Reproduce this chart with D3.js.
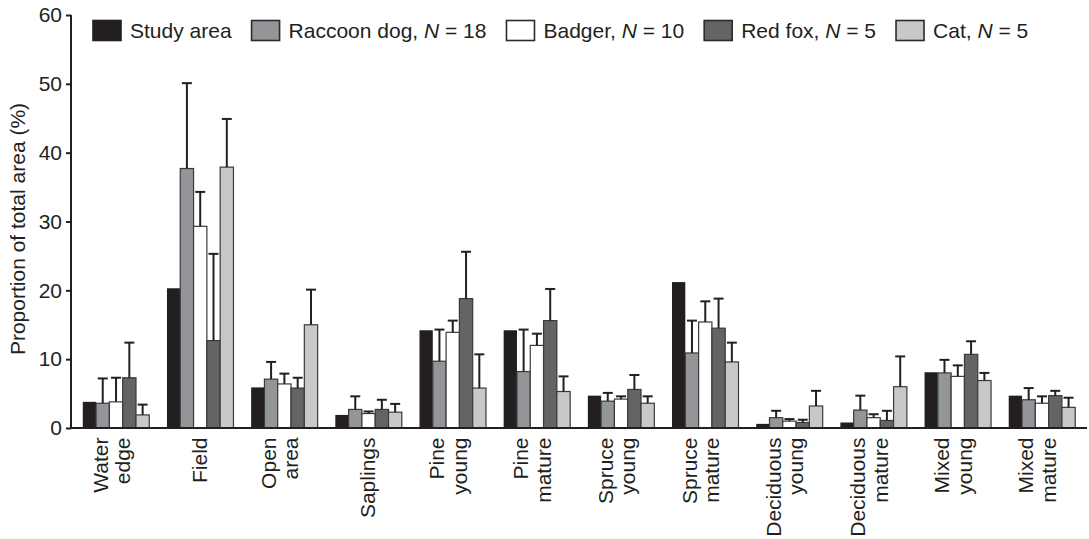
<!DOCTYPE html>
<html>
<head>
<meta charset="utf-8">
<script src="https://cdn.jsdelivr.net/npm/d3@7"></script>
<style>
  html, body { margin: 0; padding: 0; background: #fff; }
  svg { display: block; font-family: "Liberation Sans", Arial, Helvetica, sans-serif; }
</style>
</head>
<body>
<svg id="chart" width="1089" height="539"></svg>
<script>
// Habitat categories (label lines)
const categories = [
  ["Water", "edge"], ["Field"], ["Open", "area"], ["Saplings"],
  ["Pine", "young"], ["Pine", "mature"], ["Spruce", "young"], ["Spruce", "mature"],
  ["Deciduous", "young"], ["Deciduous", "mature"], ["Mixed", "young"], ["Mixed", "mature"]
];

// Series names (legend)
const seriesNames = ["Study area", "Raccoon dog", "Badger", "Red fox", "Cat"];
const seriesN = [null, 18, 10, 5, 5];

// Proportion of total area (%) per habitat
const studyArea = [3.8, 20.3, 5.9, 1.9, 14.2, 14.2, 4.7, 21.2, 0.6, 0.8, 8.1, 4.7];
const raccoonDog = [3.6, 37.7, 7.1, 2.7, 9.7, 8.2, 3.9, 10.9, 1.5, 2.6, 8.0, 4.1];
const badger = [3.8, 29.3, 6.4, 2.1, 13.9, 12.0, 4.2, 15.4, 1.0, 1.5, 7.5, 3.6];
const redFox = [7.3, 12.7, 5.8, 2.7, 18.8, 15.6, 5.6, 14.5, 0.8, 1.1, 10.7, 4.7];
const cat = [1.9, 37.9, 15.0, 2.3, 5.8, 5.3, 3.6, 9.6, 3.2, 6.0, 6.9, 3.0];

// Error (upper SE) per habitat
const raccoonDogErr = [3.6, 12.4, 2.5, 1.9, 4.6, 6.1, 1.2, 4.7, 1.0, 2.1, 1.9, 1.7];
const badgerErr = [3.5, 5.0, 1.5, 0.3, 1.7, 1.7, 0.4, 3.0, 0.3, 0.5, 1.6, 1.0];
const redFoxErr = [5.1, 12.6, 1.5, 1.4, 6.8, 4.6, 2.1, 4.3, 0.4, 1.4, 1.9, 0.7];
const catErr = [1.5, 7.0, 5.1, 1.2, 4.9, 2.2, 1.0, 2.8, 2.2, 4.4, 1.1, 1.4];

const yTicks = [0, 10, 20, 30, 40, 50, 60];

const seriesValues = [studyArea, raccoonDog, badger, redFox, cat];
const seriesErrors = [null, raccoonDogErr, badgerErr, redFoxErr, catErr];
const fills = ["#231f20", "#939598", "#ffffff", "#636466", "#c7c8ca"];
const ink = "#231f20";
const fontSize = "21px";

const svg = d3.select("#chart");
const margin = { left: 71, right: 2, top: 15, bottom: 111 };
const W = 1089, H = 539;
const x0 = margin.left, x1 = W - margin.right;
const yBottom = H - margin.bottom;

const x = d3.scaleBand()
  .domain(d3.range(categories.length))
  .range([x0, x1])
  .paddingInner(0.21)
  .paddingOuter(0.14);

const xs = d3.scaleBand()
  .domain(d3.range(seriesNames.length))
  .range([0, x.bandwidth()]);

const y = d3.scaleLinear().domain([0, 60]).range([yBottom, margin.top]);

// Bars
const groups = svg.append("g").selectAll("g")
  .data(categories.map((c, i) => i))
  .join("g")
  .attr("transform", i => `translate(${x(i)},0)`);

groups.each(function (ci) {
  const g = d3.select(this);
  seriesValues.forEach((vals, si) => {
    const v = vals[ci];
    g.append("rect")
      .attr("x", xs(si))
      .attr("y", y(v))
      .attr("width", xs.bandwidth())
      .attr("height", yBottom - y(v))
      .attr("fill", fills[si])
      .attr("stroke", si === 0 ? "none" : "#3a3a3b")
      .attr("stroke-width", 1.2);
  });
  // Error bars (upper only)
  seriesValues.forEach((vals, si) => {
    const errs = seriesErrors[si];
    if (!errs) return;
    const v = vals[ci], e = errs[ci];
    const cx = xs(si) + xs.bandwidth() / 2;
    g.append("line")
      .attr("x1", cx).attr("x2", cx)
      .attr("y1", y(v)).attr("y2", y(v + e))
      .attr("stroke", ink).attr("stroke-width", 2);
    g.append("line")
      .attr("x1", cx - 5).attr("x2", cx + 5)
      .attr("y1", y(v + e)).attr("y2", y(v + e))
      .attr("stroke", ink).attr("stroke-width", 2);
  });
});

// Y axis
const yAxis = svg.append("g")
  .attr("transform", `translate(${x0},0)`)
  .call(d3.axisLeft(y).tickValues(yTicks).tickSize(5).tickPadding(4));
yAxis.select(".domain").attr("stroke", ink).attr("stroke-width", 2)
  .attr("d", `M0,${y(60)}V${yBottom}`);
yAxis.selectAll(".tick line").attr("stroke", ink).attr("stroke-width", 2);
yAxis.selectAll(".tick text")
  .attr("fill", ink).style("font-size", fontSize)
  .style("font-family", "'Liberation Sans', Arial, sans-serif");

// X axis baseline
svg.append("line")
  .attr("x1", x0 - 1).attr("x2", x1)
  .attr("y1", yBottom).attr("y2", yBottom)
  .attr("stroke", ink).attr("stroke-width", 2.2);

// Category labels (rotated, one or two lines)
const labels = svg.append("g").selectAll("text")
  .data(categories)
  .join("text")
  .attr("transform", (d, i) => `translate(${x(i) + x.bandwidth() / 2},437.5) rotate(-90)`)
  .attr("text-anchor", "end")
  .attr("fill", ink)
  .style("font-size", fontSize);
labels.each(function (lines) {
  const t = d3.select(this);
  const lh = 22.5;
  const startDy = 6.5 - (lines.length - 1) * 15;
  lines.forEach((ln, k) => {
    t.append("tspan").attr("x", 0)
      .attr("dy", k === 0 ? startDy : lh)
      .text(ln);
  });
});

// Y axis title
svg.append("text")
  .attr("transform", "translate(25,229) rotate(-90)")
  .attr("text-anchor", "middle")
  .attr("fill", ink)
  .style("font-size", fontSize)
  .text("Proportion of total area (%)");

// Legend
const legend = svg.append("g");
let lx = 93;
seriesNames.forEach((name, si) => {
  legend.append("rect")
    .attr("x", lx).attr("y", 20.5)
    .attr("width", 28).attr("height", 20)
    .attr("fill", fills[si])
    .attr("stroke", si === 0 ? fills[0] : "#2b2b2b")
    .attr("stroke-width", 1.6);
  const t = legend.append("text")
    .attr("x", lx + 37).attr("y", 38)
    .attr("fill", ink)
    .style("font-size", fontSize);
  if (seriesN[si] == null) {
    t.text(name);
  } else {
    t.append("tspan").text(name + ", ");
    t.append("tspan").style("font-style", "italic").text("N");
    t.append("tspan").text(" = " + seriesN[si]);
  }
  lx = lx + 37 + t.node().getComputedTextLength() + 20;
});
</script>
</body>
</html>
